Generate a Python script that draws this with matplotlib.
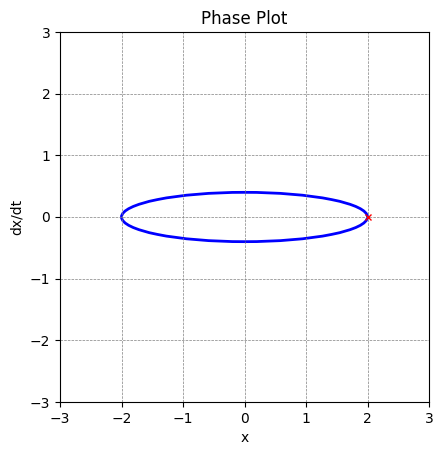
import matplotlib.pyplot as plt
from matplotlib.patches import Ellipse

# trajectory: closed orbit centred at origin
orbit_center = (0.0, 0.0)
x_amplitude = 2.0      # x swings between -2 and 2
v_amplitude = 0.4      # dx/dt swings between -0.4 and 0.4
start_point_x = [2.0]
start_point_v = [0.0]

ticks = [-3, -2, -1, 0, 1, 2, 3]

fig = plt.figure(figsize=(4.43, 4.55), dpi=100)
ax = fig.add_axes([60 / 443, 53 / 455, 369 / 443, 370 / 455])

orbit = Ellipse(orbit_center, 2 * x_amplitude, 2 * v_amplitude,
                fill=False, edgecolor='blue', lw=2)
ax.add_patch(orbit)
ax.plot(start_point_x, start_point_v, 'rx', ms=5)

ax.set_xlim(-3, 3)
ax.set_ylim(-3, 3)
ax.set_xticks(ticks)
ax.set_yticks(ticks)
ax.set_xlabel('x')
ax.set_ylabel('dx/dt')
ax.set_title('Phase Plot')
ax.grid(True, color='gray', ls='--', lw=0.5)

fig.savefig('out.png', dpi=100)
